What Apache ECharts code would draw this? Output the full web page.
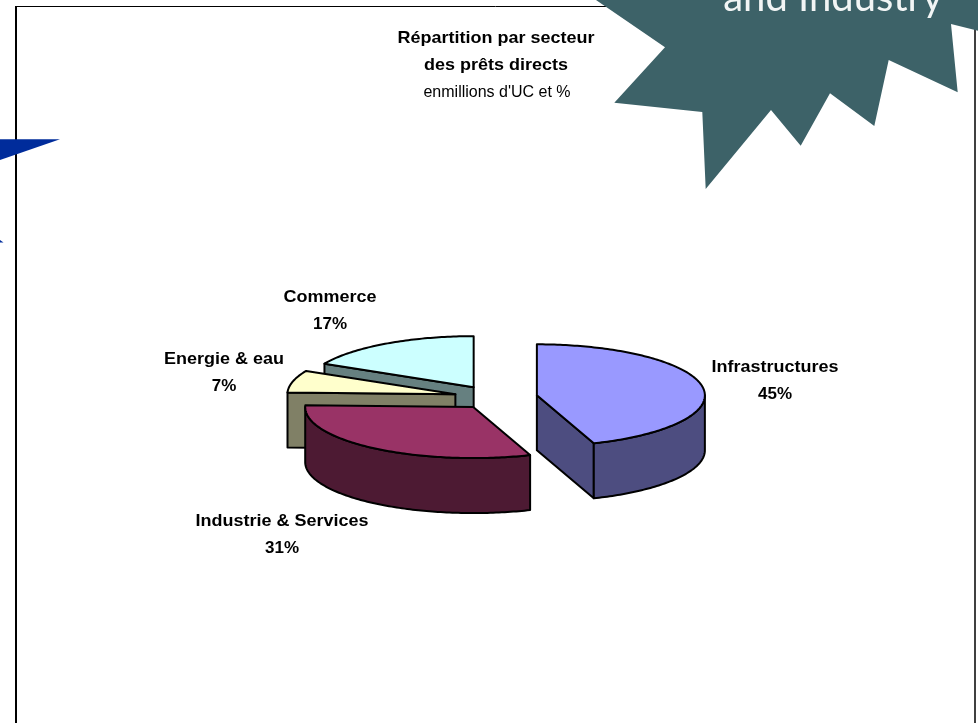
<!DOCTYPE html>
<html>
<head>
<meta charset="utf-8">
<style>html,body{margin:0;padding:0;background:#fff}#c{width:978px;height:723px}</style>
<script src="https://cdn.jsdelivr.net/npm/echarts@6/dist/echarts.min.js"></script>
</head>
<body>
<div id="c"></div>
<script>
// Chart data
const categories = ['Infrastructures', 'Industrie & Services', 'Energie & eau', 'Commerce'];
const shares = [44.5, 31.1, 7.0, 17.4];
const titleLines = ['Répartition par secteur', 'des prêts directs'];
const subtitle = "enmillions d'UC et %";

// Styles
const topColors = ['#9999FF', '#993366', '#FFFFCC', '#CCFFFF'];
const sideColors = ['#4D4D80', '#4D1A33', '#808066', '#668080'];
const sansFamily = '"Liberation Sans", Arial, sans-serif';
const labelFont = 'bold 16.5px ' + sansFamily;

// Pie projection
const pie = { cx: 495, cy: 397.4, rx: 168, ry: 51, depth: 55, explodeX: 0.25, explodeY: 0.235 };
const nudgeX = [0.5, 3, 1, 0.5];
const labelAnchor = [[775, 367], [282, 521], [224, 359], [330, 297]];
const labelGap = 27;
const labelStretch = 1.09;

const total = shares.reduce((a, b) => a + b, 0);
const rad = d => d * Math.PI / 180;
const starts = [];
shares.reduce((acc, v, i) => { starts[i] = acc; return acc + v / total * 360; }, 0);

function rim(c, t, dz) {
  return [c[0] + pie.rx * Math.sin(rad(t)), c[1] - pie.ry * Math.cos(rad(t)) + (dz || 0)];
}
function arc(c, a, b, dz) {
  const pts = [];
  const n = Math.max(2, Math.ceil(Math.abs(b - a)));
  for (let k = 0; k <= n; k++) pts.push(rim(c, a + (b - a) * k / n, dz));
  return pts;
}
function stretchedText(text, x, y, font, stretch) {
  return {
    type: 'text', x, y, scaleX: stretch,
    style: { text, x: 0, y: 0, align: 'center', verticalAlign: 'middle', font, fill: '#000' }
  };
}

function renderSlice(params, api) {
  const i = api.value(0);
  const a = starts[i];
  const b = a + api.value(1) / total * 360;
  const mid = rad((a + b) / 2);
  const c = [
    pie.cx + pie.explodeX * pie.rx * Math.sin(mid) + nudgeX[i],
    pie.cy - pie.explodeY * pie.ry * Math.cos(mid)
  ];
  const stroke = { stroke: '#000', lineWidth: 2, lineJoin: 'round' };
  const side = pts => ({ type: 'polygon', shape: { points: pts }, style: Object.assign({ fill: sideColors[i] }, stroke) });
  const children = [];
  const down = [c[0], c[1] + pie.depth];

  if (Math.sin(rad(a)) < -1e-6) {
    children.push(side([c, rim(c, a), rim(c, a, pie.depth), down]));
  }
  if (Math.sin(rad(b)) > 1e-6) {
    children.push(side([c, rim(c, b), rim(c, b, pie.depth), down]));
  }
  const sa = Math.max(a, 90), sb = Math.min(b, 270);
  if (sb > sa) {
    children.push(side(arc(c, sa, sb, 0).concat(arc(c, sb, sa, pie.depth))));
  }
  children.push({
    type: 'polygon',
    shape: { points: [c].concat(arc(c, a, b, 0)) },
    style: Object.assign({ fill: topColors[i] }, stroke)
  });

  const pos = labelAnchor[i];
  children.push(stretchedText(categories[i], pos[0], pos[1], labelFont, labelStretch));
  children.push(stretchedText(Math.round(shares[i]) + '%', pos[0], pos[1] + labelGap, labelFont, 1.03));
  return { type: 'group', children };
}

// Draw back slices first
const order = categories.map((_, i) => i).reverse();

const tealStar = [[596,0],[665,47.3],[614.3,102.7],[702.3,112],[705.7,189],[771,110],[800.7,145.7],[830,93.3],[874.3,126],[888.7,60],[957.7,92.3],[951,24],[978,30.7],[978,0]];
const blueStar = [[0,139.3],[60,139.3],[0,160]];
const blueStarTip = [[0,240],[3.5,242.5],[0,242.5]];
const frameStyle = { stroke: '#000' };

const chart = echarts.init(document.getElementById('c'), null, { renderer: 'canvas' });
chart.setOption({
  animation: false,
  backgroundColor: '#fff',
  graphic: { elements: [
    { type: 'line', shape: { x1: 15, y1: 6.5, x2: 976, y2: 6.5 }, style: Object.assign({ lineWidth: 1 }, frameStyle), z: 1 },
    { type: 'line', shape: { x1: 16, y1: 6, x2: 16, y2: 723 }, style: Object.assign({ lineWidth: 2 }, frameStyle), z: 1 },
    { type: 'line', shape: { x1: 975, y1: 6, x2: 975, y2: 723 }, style: Object.assign({ lineWidth: 1.5 }, frameStyle), z: 1 },
    { type: 'polygon', shape: { points: tealStar }, style: { fill: '#3D6268' }, z: 2 },
    { type: 'polygon', shape: { points: blueStar }, style: { fill: '#002C9B' }, z: 2 },
    { type: 'polygon', shape: { points: blueStarTip }, style: { fill: '#002C9B' }, z: 2 },
    { type: 'text', style: { text: 'and Industry', x: 833, y: 18, align: 'center', verticalAlign: 'bottom', font: '40px Lato, sans-serif', fill: '#F2F5F5' }, z: 3 },
    Object.assign(stretchedText(titleLines[0], 496, 38.5, 'bold 16.5px ' + sansFamily, 1.09), { z: 3 }),
    Object.assign(stretchedText(titleLines[1], 496, 65, 'bold 16.5px ' + sansFamily, 1.09), { z: 3 }),
    Object.assign(stretchedText(subtitle, 497, 93, '16px ' + sansFamily, 1), { z: 3 })
  ] },
  series: [{
    type: 'custom',
    coordinateSystem: 'none',
    renderItem: renderSlice,
    silent: true,
    data: order.map(i => ({ name: categories[i], value: [i, shares[i]] }))
  }]
});
</script>
</body>
</html>
